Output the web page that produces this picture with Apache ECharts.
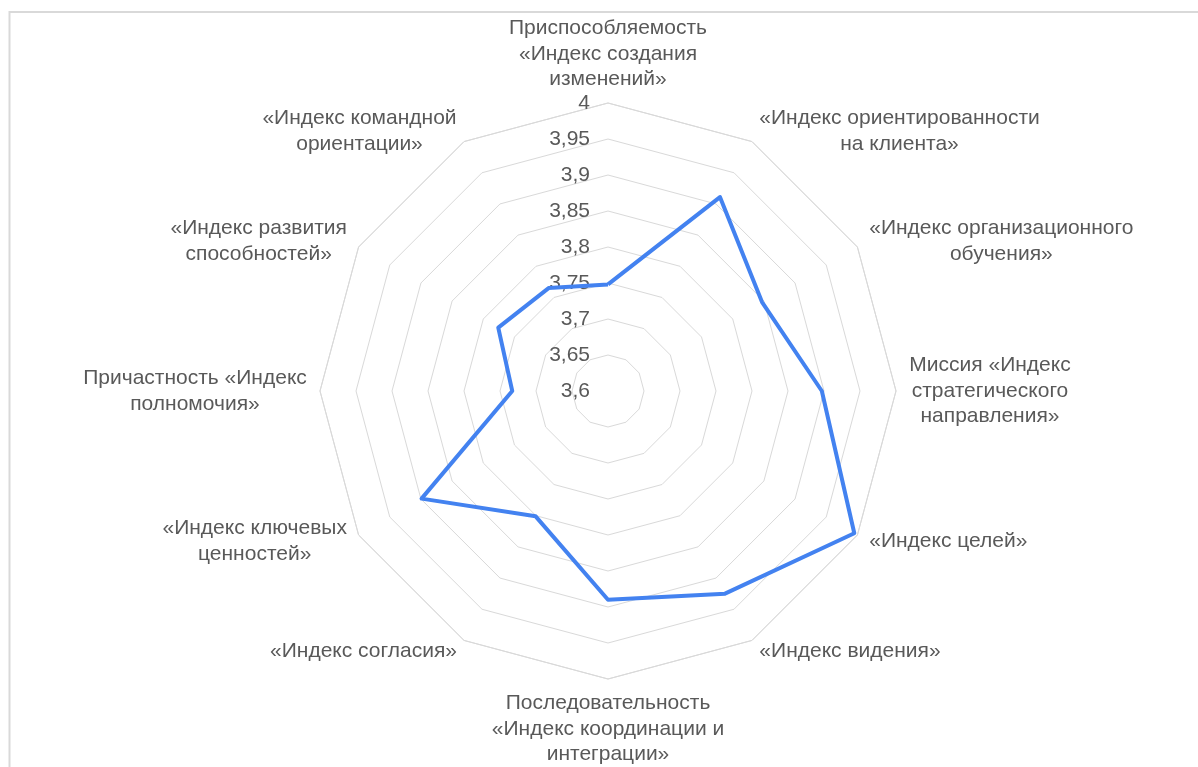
<!DOCTYPE html>
<html><head><meta charset="utf-8">
<script src="https://cdn.jsdelivr.net/npm/echarts@6/dist/echarts.min.js"></script>
<style>html,body{margin:0;padding:0;background:#fff}#c{width:1198px;height:767px}</style>
</head><body><div id="c"></div>
<script>
// ---- data (clockwise from top) ----
const categories = [
  'Приспособляемость\n«Индекс создания\nизменений»',
  '«Индекс ориентированности\nна клиента»',
  '«Индекс организационного\nобучения»',
  'Миссия «Индекс\nстратегического\nнаправления»',
  '«Индекс целей»',
  '«Индекс видения»',
  'Последовательность\n«Индекс координации и\nинтеграции»',
  '«Индекс согласия»',
  '«Индекс ключевых\nценностей»',
  'Причастность «Индекс\nполномочия»',
  '«Индекс развития\nспособностей»',
  '«Индекс командной\nориентации»'
];
const values = [3.748, 3.911, 3.847, 3.897, 3.995, 3.925, 3.890, 3.801, 3.899, 3.733, 3.776, 3.765];
const axisMin = 3.6, axisMax = 4.0, axisStep = 0.05;
const tickLabels = ['3,6', '3,65', '3,7', '3,75', '3,8', '3,85', '3,9', '3,95', '4'];

// ---- style ----
const FONT = '"Liberation Sans", Arial, sans-serif';
const FS = 21;
const TXT = '#595959';
const CENTER = [608, 391];
const RADIUS = 288;

// ECharts radar runs counter-clockwise: reorder
const n = categories.length;
const ecOrder = categories.map((_, k) => (n - k) % n);

// measure label widths so that lines are centred within each label block
const cv = document.createElement('canvas').getContext('2d');
cv.font = FS + 'px ' + FONT;
const rich = {};
categories.forEach((c, i) => {
  const w = Math.max(...c.split('\n').map(l => cv.measureText(l).width));
  rich['w' + i] = {width: Math.ceil(w) + 2, align: 'center', fontSize: FS, lineHeight: 25.5, color: TXT, fontFamily: FONT};
});
rich.spT = {lineHeight: 74, fontSize: 1};
rich.spB = {lineHeight: 76, fontSize: 1};

const chart = echarts.init(document.getElementById('c'), null, {renderer: 'canvas'});
chart.setOption({
  animation: false,
  backgroundColor: '#fff',
  graphic: [{
    type: 'rect', x: 9.5, y: 12, silent: true,
    shape: {x: 0, y: 0, width: 1400, height: 1000},
    style: {fill: 'none', stroke: '#d9d9d9', lineWidth: 2}
  }],
  radar: {
    center: CENTER,
    radius: RADIUS,
    startAngle: 90,
    splitNumber: 8,
    shape: 'polygon',
    axisNameGap: 12,
    indicator: ecOrder.map(i => ({name: categories[i], min: axisMin, max: axisMax})),
    axisLine: {show: false},
    axisTick: {show: false},
    axisLabel: {show: false},
    splitArea: {show: false},
    splitLine: {lineStyle: {color: '#d9d9d9', width: 1}},
    axisName: {
      color: TXT, fontSize: FS, fontFamily: FONT, verticalAlign: 'middle',
      formatter: function (name) {
        const i = categories.indexOf(name);
        let s = name.split('\n').map(l => '{w' + i + '|' + l + '}').join('\n');
        if (i === 0) s = s + '\n{spT|\u200b}';
        if (i === n / 2) s = '{spB|\u200b}\n' + s;
        return s;
      },
      rich: rich
    }
  },
  polar: {center: CENTER, radius: RADIUS},
  angleAxis: {show: false, type: 'value', min: 0, max: 360, startAngle: 90},
  radiusAxis: {
    type: 'value', min: axisMin, max: axisMax, interval: axisStep,
    axisLine: {show: false}, axisTick: {show: false}, splitLine: {show: false},
    axisLabel: {
      color: TXT, fontSize: FS, fontFamily: FONT, showMinLabel: true, showMaxLabel: true, margin: 18,
      formatter: v => tickLabels[Math.round((v - axisMin) / axisStep)]
    }
  },
  series: [{
    type: 'radar',
    symbol: 'none',
    lineStyle: {color: '#4382F0', width: 4},
    data: [{value: ecOrder.map(i => values[i])}]
  }]
});
</script>
</body></html>
